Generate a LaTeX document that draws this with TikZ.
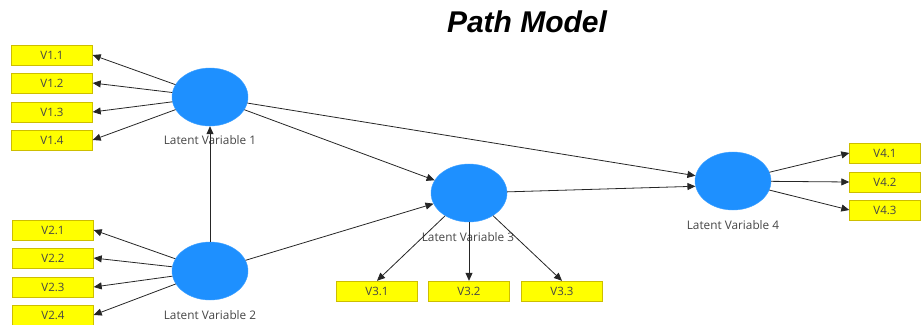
\documentclass[tikz,border=0pt]{standalone}
\usepackage{fontspec}
\setmainfont{Open Sans}
\newfontfamily\titlefont{Liberation Sans}
\usepackage{tikz}
\usetikzlibrary{arrows.meta}
\usetikzlibrary{shapes.geometric}

\definecolor{lvblue}{RGB}{30,144,255}
\definecolor{mvyellow}{RGB}{255,255,0}
\definecolor{mvedge}{RGB}{205,190,0}
\definecolor{labgray}{RGB}{70,70,70}

\begin{document}
\begin{tikzpicture}[x=1pt,y=-1pt,
    latent/.style={ellipse,fill=lvblue,draw=lvblue!85!white,minimum width=76pt,minimum height=58pt,inner sep=0pt},
    manifest/.style={rectangle,fill=mvyellow,draw=mvedge,minimum width=81pt,minimum height=20pt,inner sep=0pt,font=\fontsize{11.5}{13}\selectfont,text=labgray},
    lvlabel/.style={font=\fontsize{11.8}{13}\selectfont,text=labgray},
    link/.style={draw=black!85,line width=0.8pt,-{Triangle[length=8pt,width=7pt]}}]
    \useasboundingbox (0,0) rectangle (921,324);
    %
    \node (title) at (527,22) {\titlefont\fontsize{30}{32}\selectfont\bfseries\itshape Path Model};
    %
    \node[latent] (lv1) at (210,97) {};
    \node[latent] (lv2) at (210,271) {};
    \node[latent] (lv3) at (469,193) {};
    \node[latent] (lv4) at (733,181) {};
    %
    \node[lvlabel] (lab1) at (210,140) {Latent Variable 1};
    \node[lvlabel] (lab2) at (210,315) {Latent Variable 2};
    \node[lvlabel] (lab3) at (468,237) {Latent Variable 3};
    \node[lvlabel] (lab4) at (733,225) {Latent Variable 4};
    %
    \node[manifest] (v11) at (52,55) {V1.1};
    \node[manifest] (v12) at (52,83) {V1.2};
    \node[manifest] (v13) at (52,112) {V1.3};
    \node[manifest] (v14) at (52,140) {V1.4};
    \node[manifest] (v21) at (53,230) {V2.1};
    \node[manifest] (v22) at (53,258) {V2.2};
    \node[manifest] (v23) at (53,287) {V2.3};
    \node[manifest] (v24) at (53,315) {V2.4};
    \node[manifest] (v31) at (377,291) {V3.1};
    \node[manifest] (v32) at (469,291) {V3.2};
    \node[manifest] (v33) at (562,291) {V3.3};
    \node[manifest,minimum width=71pt] (v41) at (885,153) {V4.1};
    \node[manifest,minimum width=71pt] (v42) at (885,182) {V4.2};
    \node[manifest,minimum width=71pt] (v43) at (885,210) {V4.3};
    %
    \draw[link] (lv1) -- (v11.east);
    \draw[link] (lv1) -- (v12.east);
    \draw[link] (lv1) -- (v13.east);
    \draw[link] (lv1) -- (v14.east);
    \draw[link] (lv2) -- (v21.east);
    \draw[link] (lv2) -- (v22.east);
    \draw[link] (lv2) -- (v23.east);
    \draw[link] (lv2) -- (v24.east);
    \draw[link] (lv3) -- (v31.north);
    \draw[link] (lv3) -- (v32.north);
    \draw[link] (lv3) -- (v33.north);
    \draw[link] (lv4) -- (v41.west);
    \draw[link] (lv4) -- (v42.west);
    \draw[link] (lv4) -- (v43.west);
    %
    \draw[link] (lv2) -- (lv1);
    \draw[link] (lv1) -- (lv3);
    \draw[link] (lv2) -- (lv3);
    \draw[link] (lv1) -- (lv4.172);
    \draw[link] (lv3) -- (lv4.188);
\end{tikzpicture}
\end{document}
